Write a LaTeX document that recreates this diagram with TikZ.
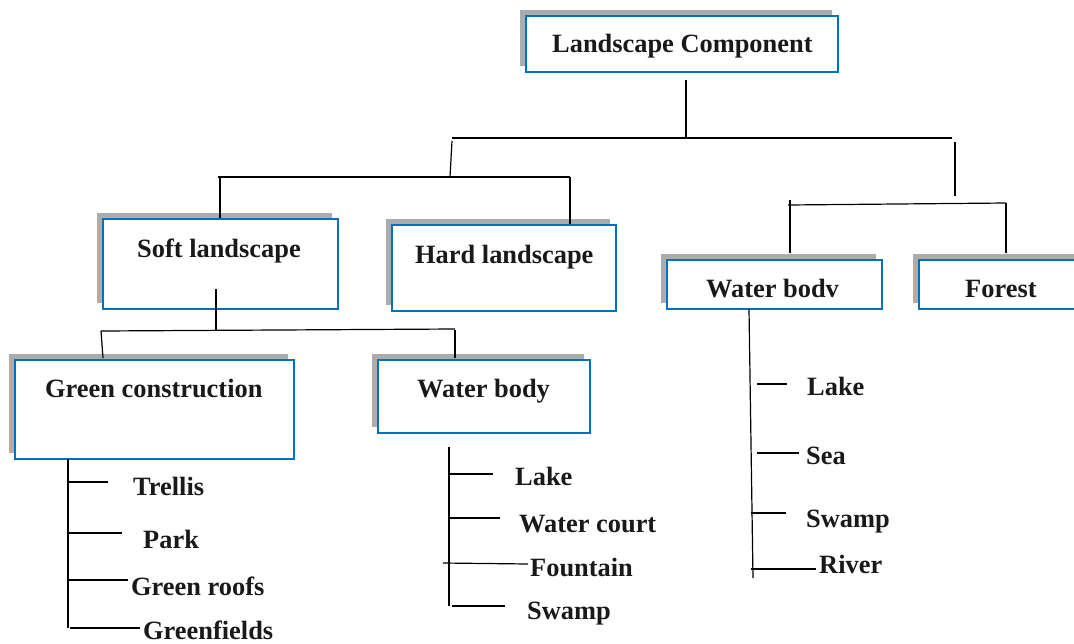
\documentclass[tikz,border=0pt]{standalone}
\usepackage{fontspec}
\setmainfont{Liberation Serif}
\usetikzlibrary{shadows}
\definecolor{boxblue}{RGB}{0,112,192}
\begin{document}
\begin{tikzpicture}[x=1pt,y=-1pt,
  box/.style={draw=boxblue, line width=2.8pt, fill=white, inner sep=0pt,
    general shadow={fill=gray!65, shadow xshift=-6pt, shadow yshift=6pt}},
  lbl/.style={font=\fontsize{26.4}{29}\selectfont\bfseries, inner sep=0pt, anchor=base west, text=black!90},
  conn/.style={line width=1.2pt, black}]
\useasboundingbox (0,0) rectangle (1074,643);
\clip (0,0) rectangle (1074,643);
% boxes
\node[box, minimum width=312pt, minimum height=56pt] (lc) at (682,44) {};
\node[box, minimum width=235pt, minimum height=90pt] (soft) at (220.5,264) {};
\node[box, minimum width=224pt, minimum height=86pt] (hard) at (504,268) {};
\node[box, minimum width=279pt, minimum height=99pt] (green) at (154.5,409.5) {};
\node[box, minimum width=212pt, minimum height=73pt] (wbm) at (484,396.5) {};
\node[box, minimum width=215pt, minimum height=49pt] (wbr) at (774.5,284.5) {};
\node[box, minimum width=170pt, minimum height=49pt] (forest) at (1004,284.5) {};
% box titles
\node[lbl] (tlc) at (552,52) {Landscape Component};
\node[lbl] (tsoft) at (137,257) {Soft landscape};
\node[lbl] (thard) at (415,263) {Hard landscape};
\node[lbl] (tgreen) at (45,397) {Green construction};
\node[lbl] (twbm) at (417,397) {Water body};
\node[lbl] (twbr) at (706,297) {Water bodv};
\node[lbl] (tforest) at (965,297) {Forest};
% leaves
\node[lbl] (trellis) at (133,495) {Trellis};
\node[lbl] (park) at (143,548) {Park};
\node[lbl] (groofs) at (131,595) {Green roofs};
\node[lbl] (gfields) at (143,639) {Greenfields};
\node[lbl] (lakem) at (515,485) {Lake};
\node[lbl] (wcourt) at (519,532) {Water court};
\node[lbl] (fount) at (530,576) {Fountain};
\node[lbl] (swampm) at (527,619) {Swamp};
\node[lbl] (laker) at (807,395) {Lake};
\node[lbl] (sea) at (806,464) {Sea};
\node[lbl] (swampr) at (806,527) {Swamp};
\node[lbl] (river) at (819,573) {River};
% junction coordinates
\coordinate (a1) at (686,80);  \coordinate (a2) at (686,138);
\coordinate (b1) at (452,138); \coordinate (b2) at (952,138);
\coordinate (c1) at (452,141); \coordinate (c2) at (450,177);
\coordinate (d1) at (955,142); \coordinate (d2) at (955,196);
\coordinate (e1) at (218,177); \coordinate (e2) at (570,177);
\coordinate (e3) at (220,177);
\coordinate (f1) at (788,205); \coordinate (f2) at (1006,203);
\coordinate (g1) at (790,200); \coordinate (g2) at (790,253);
\coordinate (h2) at (1006,253);
\coordinate (i1) at (216,289); \coordinate (i2) at (216,330);
\coordinate (j1) at (101,331); \coordinate (j2) at (455,329);
\coordinate (j3) at (455,330);
\coordinate (k1) at (103,358); \coordinate (k2) at (455,358);
\draw[conn] (a1) -- (a2);
\draw[conn] (b1) -- (b2);
\draw[conn] (c1) -- (c2);
\draw[conn] (d1) -- (d2);
\draw[conn] (e1) -- (e2);
\draw[conn] (e3) -- (soft.north -| e3);
\draw[conn] (e2) -- (hard.north -| e2);
\draw[conn] (f1) -- (f2);
\draw[conn] (g1) -- (g2);
\draw[conn] (f2) -- (h2);
\draw[conn] (i1) -- (i2);
\draw[conn] (j1) -- (j2);
\draw[conn] (j1) -- (k1);
\draw[conn] (j3) -- (k2);
% green construction list
\coordinate (gt1) at (68,459); \coordinate (gt2) at (68,628);
\draw[conn] (gt1) -- (gt2);
\draw[conn] (68,482) -- (108,482);
\draw[conn] (68,533) -- (122,533);
\draw[conn] (68,580) -- (128,580);
\draw[conn] (70,628) -- (140,628);
% water body (middle) list
\coordinate (mt1) at (449,447); \coordinate (mt2) at (449,606);
\draw[conn] (mt1) -- (mt2);
\draw[conn] (449,474) -- (493,474);
\draw[conn] (449,518) -- (500,518);
\draw[conn] (443,563) -- (528,564);
\draw[conn] (452,606) -- (505,606);
% water body (right) list
\coordinate (rt1) at (749,309); \coordinate (rt2) at (753,578);
\draw[conn] (rt1) -- (rt2);
\draw[conn] (757,384) -- (787,384);
\draw[conn] (757,453) -- (799,453);
\draw[conn] (751,513) -- (786,513);
\draw[conn] (751,569) -- (816,569);
\end{tikzpicture}
\end{document}
